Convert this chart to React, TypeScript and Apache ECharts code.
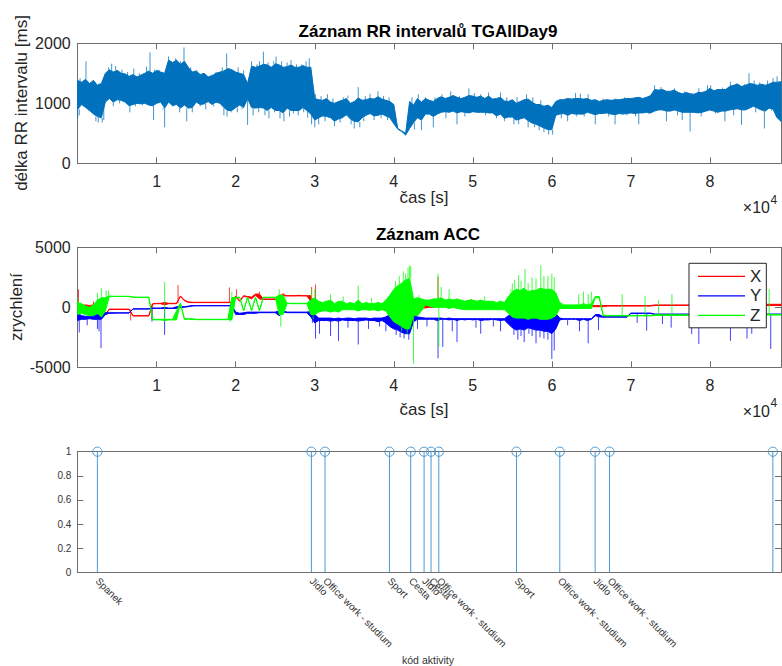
import React, { useEffect, useRef } from "react";
import * as echarts from "echarts";

const FONT = "'Liberation Sans', Arial, Helvetica, sans-serif";
const TXT = "#262626";
const AXIS = "#6e6e6e";

// ---- time bins (seconds) ----
const binSeconds = 500;
const timeMax = 89000;
const xTickStep = 10000;

// ---- RR intervals [ms]: dense core band (upper / lower edge) per 500 s bin ----
const rrHigh = [
  1380, 1350, 1400, 1330, 1380, 1300, 1330, 1500, 1560, 1520, 1550, 1500, 1490, 1450, 1480, 1440, 1470, 1500, 1540, 1500,
  1550, 1520, 1500, 1720, 1680, 1720, 1650, 1700, 1600, 1520, 1540, 1480, 1500, 1440, 1460, 1500, 1520, 1540, 1580, 1560,
  1520, 1500, 1480, 1330, 1620, 1600, 1620, 1650, 1640, 1600, 1660, 1640, 1600, 1610, 1640, 1600, 1600, 1630, 1600, 1600,
  1080, 1060, 1050, 1080, 1020, 1000, 1030, 1050, 1080, 1000, 1030, 1090, 1050, 1060, 1080, 1070, 1110, 1070, 1050, 1030,
  980, 580, 540, 500, 1030, 970, 1080, 1020, 1080, 1050, 1030, 1080, 1110, 1080, 1100, 1130, 1100, 1080, 1100, 1130,
  1120, 1100, 1120, 1080, 1120, 1070, 1080, 1100, 1040, 1030, 1060, 1000, 1030, 1060, 1070, 1020, 980, 980, 950, 970,
  930, 1030, 1060, 1060, 1080, 1070, 1080, 1080, 1070, 1080, 1050, 1060, 1030, 1050, 1060, 1050, 1060, 1060, 1070, 1080,
  1080, 1090, 1100, 1080, 1100, 1130, 1230, 1220, 1230, 1200, 1200, 1220, 1180, 1160, 1180, 1160, 1150, 1180, 1180, 1200,
  1250, 1210, 1230, 1230, 1230, 1280, 1300, 1320, 1280, 1300, 1330, 1320, 1300, 1320, 1300, 1320, 1350, 1350, 1360,
];
const rrLow = [
  900, 980, 930, 880, 820, 780, 760, 1020, 1080, 1020, 1060, 1050, 1020, 960, 980, 1000, 990, 1000, 970, 960,
  1000, 1020, 920, 1020, 960, 980, 920, 970, 920, 930, 1020, 980, 990, 1030, 980, 1020, 1000, 930, 880, 880,
  930, 970, 930, 1080, 930, 920, 930, 920, 880, 930, 880, 880, 840, 920, 880, 880, 880, 930, 880, 820,
  720, 760, 790, 780, 760, 700, 740, 760, 810, 740, 700, 690, 760, 800, 830, 790, 800, 820, 790, 760,
  660, 570, 530, 470, 580, 680, 760, 720, 820, 820, 780, 820, 850, 860, 850, 870, 840, 860, 850, 840,
  860, 850, 850, 850, 840, 840, 790, 820, 750, 770, 770, 720, 740, 760, 710, 670, 650, 620, 590, 560,
  560, 800, 820, 830, 800, 830, 820, 820, 820, 850, 830, 810, 830, 830, 840, 820, 810, 830, 820, 830,
  840, 830, 840, 840, 850, 840, 870, 890, 890, 870, 870, 890, 870, 850, 850, 850, 850, 840, 850, 870,
  890, 870, 850, 870, 870, 890, 900, 910, 890, 890, 920, 950, 920, 890, 870, 920, 900, 760, 700,
];
// isolated RR samples outside the core band: [time s, value ms]
const rrSpikes = [
  [0, 750], [200, 800], [300, 1420], [1050, 1700], [1400, 870], [1800, 1390], [2300, 700], [2600, 680], [2700, 1330],
  [3100, 680], [3300, 720], [3900, 1600], [4300, 1660], [4500, 950], [4800, 1620], [5300, 1000], [5600, 1560],
  [6300, 1520], [6600, 850], [7100, 1580], [7300, 950], [7800, 1500], [8200, 970], [8700, 1610], [9150, 1850],
  [9300, 1000], [9600, 720], [9700, 1560],
  [10300, 1560], [10800, 900], [11000, 600], [11500, 1780], [12000, 950], [12400, 1750], [12900, 850], [13000, 1700],
  [13450, 1930], [13800, 700], [14300, 1600], [14500, 850], [15100, 1550], [15500, 950], [16200, 900], [16900, 1480],
  [17200, 950], [17500, 1520], [18300, 1600], [18500, 800], [18850, 1830], [18900, 780], [19400, 850], [19600, 1560],
  [20200, 850], [20300, 1600], [20800, 900], [21000, 1550], [21500, 640], [22000, 1700], [22200, 800], [22700, 1650],
  [22900, 850], [23000, 1700], [23500, 1860], [23700, 800], [24100, 1680], [24200, 750], [24800, 1700], [24900, 850],
  [25100, 1780], [25600, 750], [25800, 1700], [26100, 700], [26500, 1680], [26800, 780], [27000, 1720], [27300, 830],
  [27700, 1650], [27900, 800], [28300, 1650], [28600, 850], [28900, 1700], [29100, 760], [29300, 1750], [29600, 650],
  [30000, 600], [30100, 1150], [30500, 650], [30800, 1120], [31300, 700], [31600, 1150], [32300, 1080], [32500, 620],
  [33200, 680], [33600, 1100], [34200, 1130], [34600, 650], [35000, 580], [35500, 1270], [35700, 600], [36200, 700],
  [36400, 1120], [37000, 1160], [37500, 720], [38000, 1200], [38400, 750], [38700, 1120], [39200, 720], [39400, 1100],
  [39800, 700],
  [42300, 1100], [42600, 560], [43100, 1150], [43500, 550], [44000, 1100], [45000, 600], [45200, 1100], [46100, 1150],
  [46600, 750], [47200, 1200], [48000, 650], [48300, 1120], [49000, 780], [49500, 1250],
  [50200, 1170], [51000, 1150], [51600, 800], [52000, 1180], [53000, 750], [53500, 1180], [54000, 700], [54300, 1100],
  [55200, 650], [55600, 1100], [55800, 650], [56800, 1150], [57000, 600], [57600, 1100], [57800, 600], [58400, 550],
  [58600, 1050], [59000, 520], [59600, 480],
  [60100, 480], [61200, 750], [61700, 1080], [62000, 700], [63000, 1170], [63100, 780], [63600, 1160], [64100, 780],
  [64600, 1150], [65500, 650], [66500, 1080], [67200, 780], [68000, 650], [68100, 1080], [69200, 1100], [69500, 800],
  [70600, 780], [71000, 650], [71200, 1100], [72300, 820], [73000, 1300], [73800, 1270], [74500, 700], [75500, 1250],
  [75900, 800], [76500, 720], [76800, 1200], [77500, 530], [78600, 1250], [78900, 780], [79700, 1300],
  [80100, 1300], [80700, 830], [81600, 1260], [81900, 700], [82600, 1360], [83000, 800], [83400, 1330], [84000, 640],
  [84400, 1320], [84950, 1500], [85600, 1380], [85800, 850], [86300, 1350], [86900, 580], [87300, 1380], [87800, 880],
  [88000, 1420], [88500, 1450], [88900, 700],
];

// ---- ACC X / Y / Z: band (upper / lower edge) per 500 s bin ----
const accXHigh = [
  300, 150, 200, 150, 200, 200, 150, -550, -150, -150, -150, -150, -150, -150, -700, -700, -700, -700, -700, 300,
  330, 330, 400, 330, 330, 330, 950, 600, 450, 420, 420, 420, 420, 420, 420, 420, 420, 420, 420, 420,
  950, 550, 970, 900, 850, 1100, 1100, 700, 700, 700, 700, 1000, 1050, 970, 970, 970, 1000, 970, 970, 970,
  200, 200, 150, 200, 150, 150, 200, 150, 150, 200, 150, 200, 150, 200, 150, 200, 150, 200, 250, 300,
  300, 300, 300, 300, 300, 200, 150, 200, 150, 200, 200, 200, 200, 200, 200, 200, 200, 150, 150, 150,
  150, 150, 150, 150, 150, 150, 150, 150, 150, 150, 200, 300, 300, 300, 300, 300, 300, 300, 300, 300,
  300, 200, 150, 150, 150, 150, 150, 150, 150, 150, 150, 150, 150, 150, 150, 150, 150, 150, 150, 150,
  150, 150, 150, 150, 150, 150, 200, 200, 200, 200, 200, 200, 200, 200, 200, 200, 200, 200, 200, 200,
  250, 250, 250, 250, 250, 250, 250, 250, 250, 250, 250, 250, 250, 250, 250, 250, 250, 250, 250,
];
const accXLow = [
  -200, -150, -100, -150, -100, -100, -150, -650, -180, -180, -180, -180, -180, -180, -720, -720, -720, -720, -720, 280,
  300, 300, 200, 300, 300, 300, 900, 550, 400, 390, 390, 390, 390, 390, 390, 390, 390, 390, 390, 390,
  850, 500, 900, 850, 700, 1000, 700, 650, 650, 650, 650, 700, 950, 950, 950, 950, 950, 950, 950, 500,
  -150, -100, -150, -100, -150, -100, -100, -150, -100, -100, -100, -100, -150, -100, -150, -100, -100, -150, -100, -100,
  -200, -200, -200, -200, -200, -100, -100, -50, -50, 0, 0, 50, 50, 50, 50, 50, 50, 50, 50, 50,
  50, 50, 50, 50, 50, 50, 50, 50, 50, 50, 0, 0, 0, 0, 0, 0, 0, 0, 0, 0,
  0, 0, 50, 50, 50, 50, 50, 50, 50, 50, 50, 50, 50, 50, 100, 100, 100, 100, 100, 100,
  100, 100, 100, 100, 100, 100, 150, 150, 150, 150, 150, 150, 150, 150, 150, 150, 150, 150, 150, 150,
  150, 150, 150, 150, 150, 150, 150, 150, 150, 150, 150, 150, 150, 150, 150, 150, 150, 150, 150,
];
const accXSpikes = [
  [100, 1500], [2000, 500], [3300, 600], [6700, -1100], [9400, -1000], [12700, 1850], [19200, 1660],
  [20100, 1500], [23000, 1300], [26000, 1200], [29600, 1700], [30100, 1900], [45600, 2550], [49800, 700], [56400, 900],
];
const accYHigh = [
  -500, -700, -750, -750, -700, -600, -600, -450, -450, -450, -460, -460, -460, -460, -120, -120, -120, -120, -120, -50,
  -60, -60, 0, -60, -60, 50, 50, 50, 100, 150, 150, 150, 150, 150, 150, 150, 150, 150, 150, 150,
  -400, -500, -450, -400, -400, -400, -400, -400, -400, -400, -400, -300, -300, -400, -400, -400, -400, -400, -400, -350,
  -600, -900, -900, -900, -900, -950, -900, -950, -900, -900, -950, -900, -900, -900, -950, -900, -900, -900, -800, -600,
  -400, -300, -300, -300, -300, -600, -800, -850, -900, -900, -900, -900, -900, -950, -900, -950, -950, -950, -950, -950,
  -950, -950, -950, -950, -950, -950, -950, -950, -950, -700, -500, -500, -500, -500, -500, -500, -500, -500, -500, -450,
  -450, -500, -900, -950, -950, -950, -950, -950, -950, -950, -950, -600, -600, -780, -780, -780, -780, -780, -780, -780,
  -480, -480, -480, -480, -480, -480, -560, -560, -560, -560, -560, -560, -560, -560, -560, -560, -560, -560, -560, -560,
  -560, -560, -560, -560, -560, -560, -560, -560, -560, -560, -560, -560, -560, -560, -560, -560, -560, -560, -560,
];
const accYLow = [
  -1100, -1000, -1000, -950, -1000, -1000, -1000, -600, -500, -500, -480, -480, -480, -480, -150, -150, -150, -150, -150, -100,
  -100, -100, -100, -100, -100, -100, 0, 0, 50, 100, 120, 120, 120, 120, 120, 120, 120, 120, 120, 100,
  -600, -600, -600, -500, -500, -500, -450, -450, -450, -450, -450, -700, -400, -450, -450, -450, -450, -450, -450, -800,
  -1300, -1100, -1100, -1100, -1150, -1100, -1150, -1050, -1100, -1100, -1100, -1150, -1100, -1050, -1100, -1100, -1200, -1100, -1300, -1600,
  -1800, -1900, -2100, -2200, -2200, -1200, -1000, -1000, -1000, -1000, -1000, -1100, -1000, -1000, -1050, -1000, -1100, -1000, -1050, -1000,
  -1050, -1000, -1100, -1050, -1050, -1000, -1050, -1100, -1050, -1400, -1700, -1900, -1800, -1900, -1700, -1800, -1900, -1900, -2000, -2000,
  -2200, -1800, -1050, -1000, -1000, -1000, -1000, -1100, -1000, -1100, -1000, -700, -800, -820, -820, -820, -820, -820, -820, -820,
  -520, -520, -520, -520, -520, -520, -600, -600, -600, -600, -600, -600, -600, -600, -600, -600, -600, -600, -600, -600,
  -600, -600, -600, -600, -600, -600, -600, -600, -600, -600, -600, -600, -600, -600, -600, -600, -600, -600, -600,
];
const accYSpikes = [
  [200, -2100], [1200, -1500], [2500, -1800], [2700, -2000], [2950, -3400], [9400, -1200], [11000, -2300],
  [25500, -700], [29700, -1300], [30100, -2600], [30600, -2200], [32000, -2400], [33000, -2800], [34200, -1700],
  [35500, -3100], [36800, -1800], [38200, -1600], [39000, -2000], [40300, -2300], [40800, -2500], [41300, -2600],
  [41900, -2700], [43000, -1800], [44200, -1600], [45600, -4250],
  [46200, -3300], [47400, -2000], [48000, -2900], [50400, -1700], [51000, -2200], [52600, -1600], [53500, -2000],
  [55200, -2300], [55700, -2700], [56100, -2400], [56500, -2900], [57100, -2200], [57500, -2400], [58000, -3000],
  [58500, -2500], [59000, -2600], [59500, -2700], [60000, -4300], [60300, -3600], [62000, -1500], [63500, -2000],
  [64600, -3000], [65900, -1900], [70800, -1300], [72000, -1950], [74000, -1400], [75100, -1700], [77700, -2226],
  [78600, -3059], [80500, -1500], [82600, -2800], [84700, -2600], [85300, -2200], [86000, -1400], [87700, -3470],
];
const accZHigh = [
  400, 300, 100, 0, 200, 600, 800, 800, 950, 920, 920, 920, 920, 920, 850, 850, 850, 850, 850, -1000,
  -1000, -1000, -1000, -1000, -1000, -300, 350, -950, -950, -950, -1000, -1000, -1000, -1000, -1000, -1000, -1000, -1000, -1000, 800,
  830, 830, -280, 830, -280, 830, -280, 830, 830, 830, 830, 1000, 1000, 330, 330, 330, 330, 330, 330, 600,
  800, 500, 400, 500, 600, 300, 500, 500, 300, 400, 300, 600, 300, 400, 300, 300, 400, 300, 600, 1000,
  1500, 1800, 2000, 2300, 2400, 700, 800, 700, 600, 600, 700, 700, 800, 600, 700, 600, 700, 600, 500, 600,
  600, 500, 600, 500, 500, 500, 400, 500, 400, 900, 1300, 1500, 1400, 1600, 1300, 1400, 1400, 1600, 1500, 1500,
  1500, 1200, 400, 200, 200, 200, 200, 200, 300, 200, 300, 900, 900, -650, -680, -680, -680, -680, -680, -680,
  -680, -680, -680, -680, -680, -680, -620, -620, -620, -620, -620, -620, -620, -620, -620, -620, -620, -620, -620, -620,
  -600, -600, -600, -600, -600, -600, -600, -600, -600, -600, -600, -600, -600, -600, -600, -600, -600, -600, -600,
];
const accZLow = [
  -600, -500, -600, -700, -700, -500, -800, -300, 880, 900, 900, 900, 900, 900, 820, 820, 820, 820, 820, -1050,
  -1050, -1050, -1100, -1050, -1050, -1050, 300, -1000, -1000, -1000, -1030, -1030, -1030, -1030, -1030, -1030, -1030, -1030, -1030, -1050,
  830, 830, -280, 830, -280, 830, -280, 830, 830, 830, 830, -600, -600, 330, 300, 300, 300, 300, 300, -600,
  -600, -400, -300, -300, -400, -300, -400, -200, -200, -200, -200, -300, -200, -200, -250, -200, -300, -200, -300, -800,
  -1200, -1400, -1600, -1800, -1800, -700, -700, -300, 200, 100, 0, 0, 0, 0, -100, 0, -100, -150, -200, -200,
  -200, -200, -200, -200, -200, -200, -200, -200, -200, -500, -800, -900, -900, -900, -1000, -900, -900, -1000, -1000, -1000,
  -900, -700, -100, -100, -100, -100, -100, -100, -100, -100, -100, 800, 800, -700, -720, -720, -720, -720, -720, -720,
  -720, -720, -720, -720, -720, -720, -680, -680, -680, -680, -680, -680, -680, -680, -680, -680, -680, -680, -680, -680,
  -650, -650, -650, -650, -650, -650, -650, -650, -650, -650, -650, -650, -650, -650, -650, -650, -650, -650, -650,
];
const accZSpikes = [
  [0, 800], [2500, 1200], [3000, 1600], [3600, 1400], [3900, 1400], [11000, 2100], [12900, 300], [19300, -1200],
  [19500, 1300], [25500, 1500], [25700, -1600], [29600, 1500], [29800, -1000], [30000, 1500], [32000, 1100],
  [33600, 900], [35500, 1800], [37200, 800], [40200, 2200], [40700, 2600], [41000, -2000], [41200, 3000],
  [41500, 2800], [41700, -2200], [41800, 3300], [42000, 3500], [42150, 3400], [42500, -4700], [43200, 1000],
  [45600, 2800], [45700, -3300], [46000, 1700], [47000, 1500], [51500, 900], [54800, 1500], [55000, 2000],
  [55300, 2300], [55800, 2700], [56100, 2200], [56600, 3200], [57000, 2000], [57500, 2500], [58000, 2400],
  [58600, 3500], [59000, 2600], [59500, 2600], [60000, 2800], [60300, 2500], [63400, 1100], [64000, 1300],
  [64600, 1100], [65000, 1300], [68900, 1100], [71800, 970], [73500, 600], [75200, 1100], [87500, 1525],
];

// ---- activity markers ----
const activityTimes = [2540, 29610, 31330, 39480, 42170, 43860, 44740, 45720, 55550, 61020, 65490, 67310, 87970];
const activityNames = [
  "Spanek", "Jidlo", "Office work - studium", "Sport", "Cesta", "Jidlo", "Cesta",
  "Office work - studium", "Sport", "Office work - studium", "Jidlo", "Office work - studium", "",
];
const activityFlags = [1, 1, 1, 1, 1, 1, 1, 1, 1, 1, 1, 1, 1];

const lenCheck = [rrHigh, rrLow, accXHigh, accXLow, accYHigh, accYLow, accZHigh, accZLow]
  .map((a) => a.length)
  .join(",");

// band: one filled polygon through the bin edges (library scale via api.coord)
function bandSeries(name: string, xi: number, hi: number[], lo: number[], color: string, z: number) {
  return {
    type: "custom",
    name,
    xAxisIndex: xi,
    yAxisIndex: xi,
    silent: true,
    clip: true,
    z,
    data: hi.map((h, i) => [i * binSeconds, h, lo[i]]),
    renderItem: (params: any, api: any) => {
      if (params.dataIndex !== 0) return null;
      const pts: number[][] = [];
      for (let i = 0; i < hi.length; i++) pts.push(api.coord([i * binSeconds, hi[i]]));
      for (let i = lo.length - 1; i >= 0; i--) pts.push(api.coord([i * binSeconds, lo[i]]));
      return {
        type: "polygon",
        shape: { points: pts },
        style: { fill: color, stroke: color, lineWidth: 1, lineJoin: "miter" },
      };
    },
  };
}

function spikeSeries(name: string, xi: number, spikes: number[][], hi: number[], lo: number[], color: string, z: number) {
  return {
    type: "custom",
    name,
    xAxisIndex: xi,
    yAxisIndex: xi,
    silent: true,
    clip: true,
    z,
    data: spikes,
    renderItem: (_p: any, api: any) => {
      const t = api.value(0);
      const v = api.value(1);
      const b = Math.min(hi.length - 1, Math.max(0, Math.round(t / binSeconds)));
      const base = v > hi[b] ? hi[b] : v < lo[b] ? lo[b] : v;
      const p1 = api.coord([t, base]);
      const p2 = api.coord([t, v]);
      return {
        type: "line",
        shape: { x1: p1[0], y1: p1[1], x2: p2[0], y2: p2[1] },
        style: { stroke: color, lineWidth: 1, opacity: 0.75 },
      };
    },
  };
}

function timeAxis(gridIndex: number, position: string, labels: boolean) {
  return {
    type: "value",
    gridIndex,
    position,
    min: 0,
    max: timeMax,
    interval: xTickStep,
    axisLine: { show: true, onZero: false, lineStyle: { color: AXIS, width: 1 } },
    axisTick: { show: true, inside: true, length: 6, lineStyle: { color: AXIS } },
    axisLabel: labels
      ? {
          show: true,
          margin: 10,
          fontSize: 16,
          color: TXT,
          fontFamily: FONT,
          showMinLabel: false,
          showMaxLabel: false,
          formatter: (v: number) => String(v / xTickStep),
        }
      : { show: false },
    splitLine: { show: false },
  };
}

function valAxis(
  gridIndex: number,
  position: string,
  min: number,
  max: number,
  interval: number,
  labels: boolean,
  fontSize: number,
  margin: number,
  color: string
) {
  return {
    type: "value",
    gridIndex,
    position,
    min,
    max,
    interval,
    axisLine: { show: true, onZero: false, lineStyle: { color: AXIS, width: 1 } },
    axisTick: { show: true, inside: true, length: 6, lineStyle: { color: AXIS } },
    axisLabel: labels
      ? {
          show: true,
          fontSize,
          margin,
          color,
          fontFamily: FONT,
          formatter: (v: number) => (Number.isInteger(v) ? String(v) : v.toFixed(1)),
        }
      : { show: false },
    splitLine: { show: false },
  };
}

function txt(text: string, x: number, y: number, fontSize: number, extra: any = {}) {
  return {
    type: "text",
    x,
    y,
    silent: true,
    z: 100,
    rotation: extra.rotation || 0,
    style: {
      text,
      fontSize,
      fontFamily: FONT,
      fill: extra.fill || TXT,
      fontWeight: extra.fontWeight || "normal",
      align: extra.align || "center",
      verticalAlign: "middle",
    },
  };
}

export default function App() {
  const ref = useRef<HTMLDivElement>(null);
  useEffect(() => {
    if (!ref.current) return;
    const chart = echarts.init(ref.current, null, { renderer: "svg" });
    const gridBase = { containLabel: false, outerBoundsMode: "none" };
    const stemColor = "#4a9ad4";
    const RR = "#0072BD";
    const CX = "#ff0000";
    const CY = "#0000ff";
    const CZ = "#00ff00";

    const graphics: any[] = [
      txt("Záznam RR intervalů TGAllDay9", 428, 31, 17, { fontWeight: "bold", fill: "#000" }),
      txt("délka RR intervalu [ms]", 21, 103, 17, { rotation: Math.PI / 2 }),
      txt("čas [s]", 424, 197, 17),
      txt("×10", 770, 207.5, 16, { align: "right" }),
      txt("4", 770.5, 199.5, 12, { align: "left" }),
      txt("Záznam ACC", 428, 234, 17, { fontWeight: "bold", fill: "#000" }),
      txt("zrychlení", 16, 307, 17, { rotation: Math.PI / 2 }),
      txt("čas [s]", 424, 409, 17),
      txt("×10", 770, 411, 16, { align: "right" }),
      txt("4", 770.5, 403, 12, { align: "left" }),
      txt("kód aktivity", 428, 660, 10.5, { fill: "#333" }),
    ];
    if (lenCheck !== "179,179,179,179,179,179,179,179") {
      graphics.push(txt("LEN " + lenCheck, 400, 640, 12, { fill: "#f00" }));
    }

    chart.setOption({
      animation: false,
      backgroundColor: "#ffffff",
      textStyle: { fontFamily: FONT },
      grid: [
        { ...gridBase, left: 77.7, top: 43.3, width: 703.3, height: 120 },
        { ...gridBase, left: 77.7, top: 247.3, width: 703.3, height: 120 },
        { ...gridBase, left: 77.3, top: 451.7, width: 703.7, height: 120.6 },
      ],
      xAxis: [
        timeAxis(0, "bottom", true),
        timeAxis(0, "top", false),
        timeAxis(1, "bottom", true),
        timeAxis(1, "top", false),
        {
          type: "value",
          gridIndex: 2,
          position: "bottom",
          min: 0,
          max: timeMax,
          axisLine: { show: true, onZero: false, lineStyle: { color: AXIS, width: 1 } },
          axisTick: { show: false },
          axisLabel: {
            show: true,
            customValues: activityTimes,
            formatter: (v: number) => {
              const i = activityTimes.indexOf(v);
              return i >= 0 ? activityNames[i] : "";
            },
            rotate: -45,
            fontSize: 10,
            color: "#333",
            fontFamily: FONT,
            margin: 7,
            hideOverlap: false,
          },
          splitLine: { show: false },
        },
        {
          type: "value",
          gridIndex: 2,
          position: "top",
          min: 0,
          max: timeMax,
          axisLine: { show: true, onZero: false, lineStyle: { color: AXIS, width: 1 } },
          axisTick: { show: false },
          axisLabel: { show: false },
          splitLine: { show: false },
        },
      ],
      yAxis: [
        valAxis(0, "left", 0, 2000, 1000, true, 16, 7, TXT),
        valAxis(0, "right", 0, 2000, 1000, false, 16, 7, TXT),
        valAxis(1, "left", -5000, 5000, 5000, true, 16, 7, TXT),
        valAxis(1, "right", -5000, 5000, 5000, false, 16, 7, TXT),
        valAxis(2, "left", 0, 1, 0.2, true, 10, 6, "#333"),
        valAxis(2, "right", 0, 1, 0.2, false, 10, 6, "#333"),
      ],
      legend: {
        data: ["X", "Y", "Z"],
        orient: "vertical",
        left: 689,
        top: 263.3,
        icon: "rect",
        itemWidth: 47,
        itemHeight: 1.2,
        itemGap: 2.5,
        padding: [4.5, 5, 4, 9],
        backgroundColor: "#ffffff",
        borderColor: "#262626",
        borderWidth: 1,
        borderRadius: 0,
        selectedMode: false,
        z: 50,
        textStyle: { fontSize: 17, color: TXT, fontFamily: FONT },
      },
      series: [
        bandSeries("RR", 0, rrHigh, rrLow, RR, 2),
        spikeSeries("RR spikes", 0, rrSpikes, rrHigh, rrLow, RR, 2),
        bandSeries("X band", 2, accXHigh, accXLow, CX, 2),
        spikeSeries("X spikes", 2, accXSpikes, accXHigh, accXLow, CX, 2),
        bandSeries("Y band", 2, accYHigh, accYLow, CY, 3),
        spikeSeries("Y spikes", 2, accYSpikes, accYHigh, accYLow, CY, 3),
        bandSeries("Z band", 2, accZHigh, accZLow, CZ, 4),
        spikeSeries("Z spikes", 2, accZSpikes, accZHigh, accZLow, CZ, 4),
        { type: "line", name: "X", xAxisIndex: 2, yAxisIndex: 2, data: [], itemStyle: { color: CX }, lineStyle: { color: CX } },
        { type: "line", name: "Y", xAxisIndex: 2, yAxisIndex: 2, data: [], itemStyle: { color: CY }, lineStyle: { color: CY } },
        { type: "line", name: "Z", xAxisIndex: 2, yAxisIndex: 2, data: [], itemStyle: { color: CZ }, lineStyle: { color: CZ } },
        {
          type: "custom",
          name: "aktivity",
          xAxisIndex: 4,
          yAxisIndex: 4,
          silent: true,
          data: activityTimes.map((t, i) => [t, activityFlags[i]]),
          renderItem: (_p: any, api: any) => {
            const top = api.coord([api.value(0), api.value(1)]);
            const base = api.coord([api.value(0), 0]);
            return {
              type: "group",
              children: [
                {
                  type: "line",
                  shape: { x1: base[0], y1: base[1], x2: top[0], y2: top[1] },
                  style: { stroke: stemColor, lineWidth: 1 },
                },
                {
                  type: "circle",
                  shape: { cx: top[0], cy: top[1], r: 4.6 },
                  style: { fill: "none", stroke: stemColor, lineWidth: 1 },
                },
              ],
            };
          },
        },
      ],
      graphic: graphics,
    });
    return () => chart.dispose();
  }, []);

  return (
    <div
      ref={ref}
      style={{ position: "fixed", left: 0, top: 0, width: 782, height: 666, background: "#fff" }}
    />
  );
}
